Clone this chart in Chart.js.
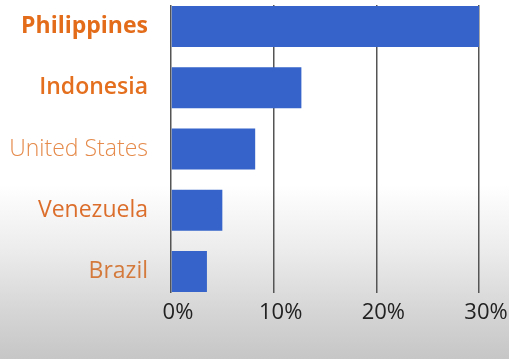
<!DOCTYPE html>
<html>
<head>
<meta charset="utf-8">
<script src="https://cdn.jsdelivr.net/npm/chart.js@4"></script>
<style>
html,body{margin:0;padding:0;}
body{width:509px;height:359px;overflow:hidden;
background:linear-gradient(to bottom,#ffffff 0px,#ffffff 185px,#ececec 250px,#d6d6d6 310px,#c6c6c6 359px);}
#wrap{position:relative;width:509px;height:359px;}
</style>
</head>
<body>
<div id="wrap"><canvas id="c" width="509" height="359"></canvas></div>
<script>
const categories = ["Philippines", "Indonesia", "United States", "Venezuela", "Brazil"];
const shares = [30, 12.7, 8.2, 5.0, 3.5];
const xTicks = [0, 10, 20, 30];
const labelWeights = ["700", "600", "300", "500", "500"];
const labelColors = ["#e36c1a", "#e4701f", "#e58a4a", "#dc6e2c", "#d47a3c"];

const FONT = "'Open Sans', sans-serif";
const tickIdx = ctx => (ctx && ctx.tick) ? ctx.tick.value : (ctx ? ctx.index : 0);

new Chart(document.getElementById('c'), {
  type: 'bar',
  data: {
    datasets: [{
      data: shares.map((v, i) => ({ x: v, y: i })),
      backgroundColor: '#3563c9',
      borderWidth: 0,
      barPercentage: 0.67,
      categoryPercentage: 1
    }]
  },
  options: {
    indexAxis: 'y',
    responsive: false,
    animation: false,
    layout: { padding: { top: 5, right: 30, left: 0, bottom: 0 } },
    plugins: { legend: { display: false }, tooltip: { enabled: false } },
    scales: {
      x: {
        type: 'linear',
        min: xTicks[0],
        max: xTicks[xTicks.length - 1],
        afterBuildTicks: s => { s.ticks = xTicks.map(v => ({ value: v })); },
        afterFit: s => { s.height = 66; s.paddingLeft = 0; s.paddingRight = 0; },
        border: { display: false },
        grid: { color: '#555555', lineWidth: 1.5, drawTicks: false },
        ticks: {
          padding: 7,
          labelOffset: 7,
          color: '#222222',
          font: { family: FONT, size: 22, weight: '400' },
          callback: v => v + '%'
        }
      },
      y: {
        type: 'linear',
        reverse: true,
        offset: false,
        min: -0.35,
        max: categories.length - 1 + 0.35,
        afterBuildTicks: s => { s.ticks = categories.map((c, i) => ({ value: i })); },
        afterFit: s => { s.width = 171; s.paddingTop = 0; s.paddingBottom = 0; },
        border: { display: false },
        grid: { display: false, drawTicks: false, offset: false },
        ticks: {
          padding: 23,
          color: ctx => labelColors[tickIdx(ctx)] || '#e36c1a',
          font: ctx => ({ family: FONT, size: 23, weight: labelWeights[tickIdx(ctx)] || '500' }),
          callback: v => categories[v]
        }
      }
    }
  }
});
</script>
</body>
</html>
